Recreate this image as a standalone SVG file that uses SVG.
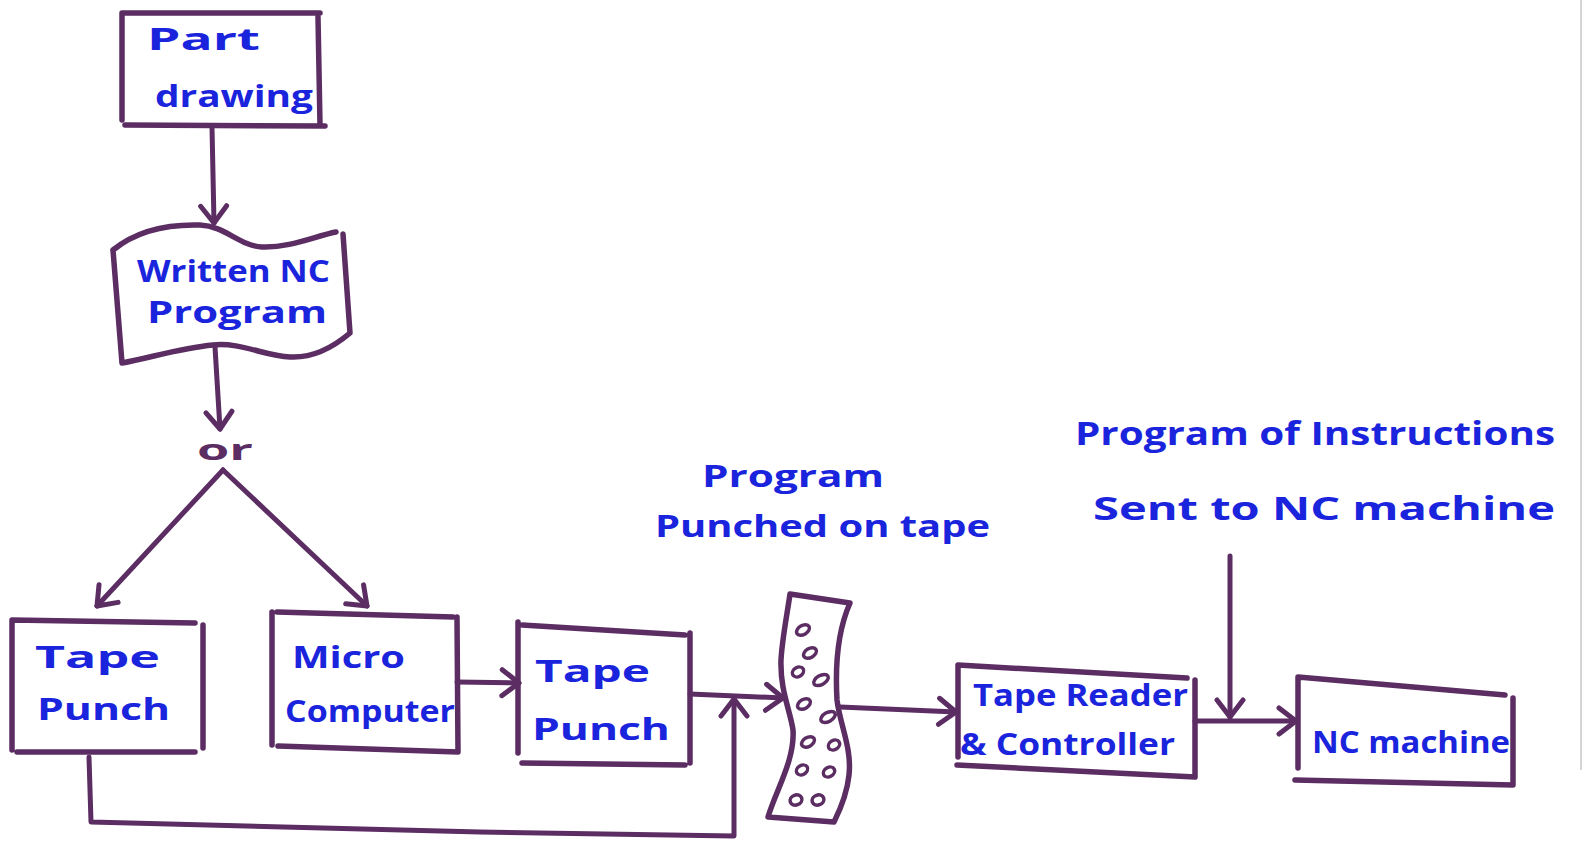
<svg xmlns="http://www.w3.org/2000/svg" width="1584" height="842" viewBox="0 0 1584 842">
<style>
.box{fill:none;stroke:#5b2d63;stroke-width:5.5;stroke-linecap:round;stroke-linejoin:round}
.con{fill:none;stroke:#5b2d63;stroke-width:5;stroke-linecap:round;stroke-linejoin:round}
.hole{fill:none;stroke:#5b2d63;stroke-width:3.5}
.t{font-family:"Open Sans","Liberation Sans",sans-serif;font-weight:700;font-size:30px;fill:#1a24dc}
.big{font-size:32px}
.or{fill:#5b2d63;font-size:28px}
</style>
<defs>
<marker id="arr" viewBox="-20 -16 24 32" refX="0" refY="0" markerWidth="24" markerHeight="32" markerUnits="userSpaceOnUse" orient="auto">
<path d="M-17,-13 L0,0 L-17,13" fill="none" stroke="#5b2d63" stroke-width="5" stroke-linecap="round" stroke-linejoin="round"/>
</marker>
</defs>
<rect width="1584" height="842" fill="#ffffff"/>
<line x1="1581" y1="0" x2="1581" y2="770" stroke="#c8c8c8" stroke-width="1.5"/>

<g id="part-drawing">
<path class="box" d="M122,13 L320,13 M318,17 L320,125 M125,125 L325,126 M122,13 L122,120"/>
<text class="t" x="147" y="50" textLength="113" lengthAdjust="spacingAndGlyphs">Part</text>
<text class="t" x="155" y="107" textLength="158" lengthAdjust="spacingAndGlyphs">drawing</text>
</g>

<g id="written-nc-program">
<path class="box" d="M113,250 C135,232 165,224 200,225 C225,226 240,246 262,247 C290,248 315,236 336,232 M343,234 L350,333 C330,350 310,358 290,357 C265,356 240,342 213,345 C180,348 150,358 122,363 M122,363 L113,250"/>
<text class="t" x="137" y="282" textLength="193" lengthAdjust="spacingAndGlyphs">Written NC</text>
<text class="t" x="147" y="323" textLength="180" lengthAdjust="spacingAndGlyphs">Program</text>
</g>

<g id="or-label">
<text class="t or" x="197" y="460" textLength="56" lengthAdjust="spacingAndGlyphs">or</text>
</g>

<g id="tape-punch-1">
<path class="box" d="M12,620 L195,623 M203,625 L203,748 M195,752 L17,752 M12,750 L12,620"/>
<text class="t" x="35" y="668" textLength="125" lengthAdjust="spacingAndGlyphs">Tape</text>
<text class="t" x="37" y="720" textLength="133" lengthAdjust="spacingAndGlyphs">Punch</text>
</g>

<g id="micro-computer">
<path class="box" d="M277,612 L453,617 M457,617 L458,752 M278,746 L458,752 M272,612 L272,745"/>
<text class="t" x="292" y="668" textLength="113" lengthAdjust="spacingAndGlyphs">Micro</text>
<text class="t" x="285" y="722" textLength="170" lengthAdjust="spacingAndGlyphs">Computer</text>
</g>

<g id="tape-punch-2">
<path class="box" d="M522,625 L685,635 M690,633 L690,763 M522,763 L685,765 M518,622 L518,753"/>
<text class="t" x="535" y="682" textLength="115" lengthAdjust="spacingAndGlyphs">Tape</text>
<text class="t" x="532" y="740" textLength="138" lengthAdjust="spacingAndGlyphs">Punch</text>
</g>

<g id="punched-tape">
<path class="box" d="M790,594 L850,603 C838,630 835,665 837,700 C840,725 852,748 849,775 C847,795 840,810 834,822 L768,817 C776,790 795,760 793,730 C790,710 780,690 781,660 C782,640 787,615 790,594 Z"/>
<g class="hole">
<ellipse cx="803" cy="630" rx="7" ry="4.5" transform="rotate(-30 803 630)"/>
<ellipse cx="810" cy="653" rx="7" ry="4.5" transform="rotate(-30 810 653)"/>
<ellipse cx="798" cy="672" rx="6" ry="4.5" transform="rotate(-30 798 672)"/>
<ellipse cx="821" cy="680" rx="8" ry="4.5" transform="rotate(-30 821 680)"/>
<ellipse cx="804" cy="704" rx="7" ry="4.5" transform="rotate(-30 804 704)"/>
<ellipse cx="828" cy="717" rx="8" ry="4.5" transform="rotate(-30 828 717)"/>
<ellipse cx="808" cy="742" rx="7" ry="4.5" transform="rotate(-30 808 742)"/>
<ellipse cx="834" cy="745" rx="6" ry="4.5" transform="rotate(-30 834 745)"/>
<ellipse cx="802" cy="770" rx="6" ry="4.5" transform="rotate(-30 802 770)"/>
<ellipse cx="829" cy="772" rx="6" ry="4.5" transform="rotate(-30 829 772)"/>
<ellipse cx="796" cy="800" rx="6" ry="5" transform="rotate(-20 796 800)"/>
<ellipse cx="818" cy="800" rx="6" ry="5" transform="rotate(-20 818 800)"/>
</g>
</g>

<g id="tape-label">
<text class="t" x="702" y="487" textLength="182" lengthAdjust="spacingAndGlyphs">Program</text>
<text class="t" x="655" y="537" textLength="335" lengthAdjust="spacingAndGlyphs">Punched on tape</text>
</g>

<g id="tape-reader">
<path class="box" d="M958,665 L1187,678 M1195,680 L1195,777 M957,765 L1195,777 M958,665 L958,757"/>
<text class="t" x="973" y="706" textLength="215" lengthAdjust="spacingAndGlyphs">Tape Reader</text>
<text class="t" x="960" y="755" textLength="215" lengthAdjust="spacingAndGlyphs">&amp; Controller</text>
</g>

<g id="instructions-label">
<text class="t big" x="1075" y="445" textLength="480" lengthAdjust="spacingAndGlyphs">Program of Instructions</text>
<text class="t big" x="1093" y="520" textLength="462" lengthAdjust="spacingAndGlyphs">Sent to NC machine</text>
</g>

<g id="nc-machine">
<path class="box" d="M1298,677 L1505,695 M1513,698 L1513,785 M1295,780 L1513,785 M1298,677 L1298,768"/>
<text class="t" x="1312" y="753" textLength="198" lengthAdjust="spacingAndGlyphs">NC machine</text>
</g>

<g id="connectors">
<path class="con" d="M212,127 L214,223" marker-end="url(#arr)"/>
<path class="con" d="M215,347 L220,429" marker-end="url(#arr)"/>
<path class="con" d="M223,470 L97,606" marker-end="url(#arr)"/>
<path class="con" d="M223,470 L367,606" marker-end="url(#arr)"/>
<path class="con" d="M457,682 L519,683" marker-end="url(#arr)"/>
<path class="con" d="M690,694 L783,698" marker-end="url(#arr)"/>
<path class="con" d="M89,757 L91,822 L480,832 L734,836 L734,699" marker-end="url(#arr)"/>
<path class="con" d="M840,707 L956,712" marker-end="url(#arr)"/>
<path class="con" d="M1195,721 L1296,721" marker-end="url(#arr)"/>
<path class="con" d="M1230,556 L1230,717" marker-end="url(#arr)"/>
</g>
</svg>
